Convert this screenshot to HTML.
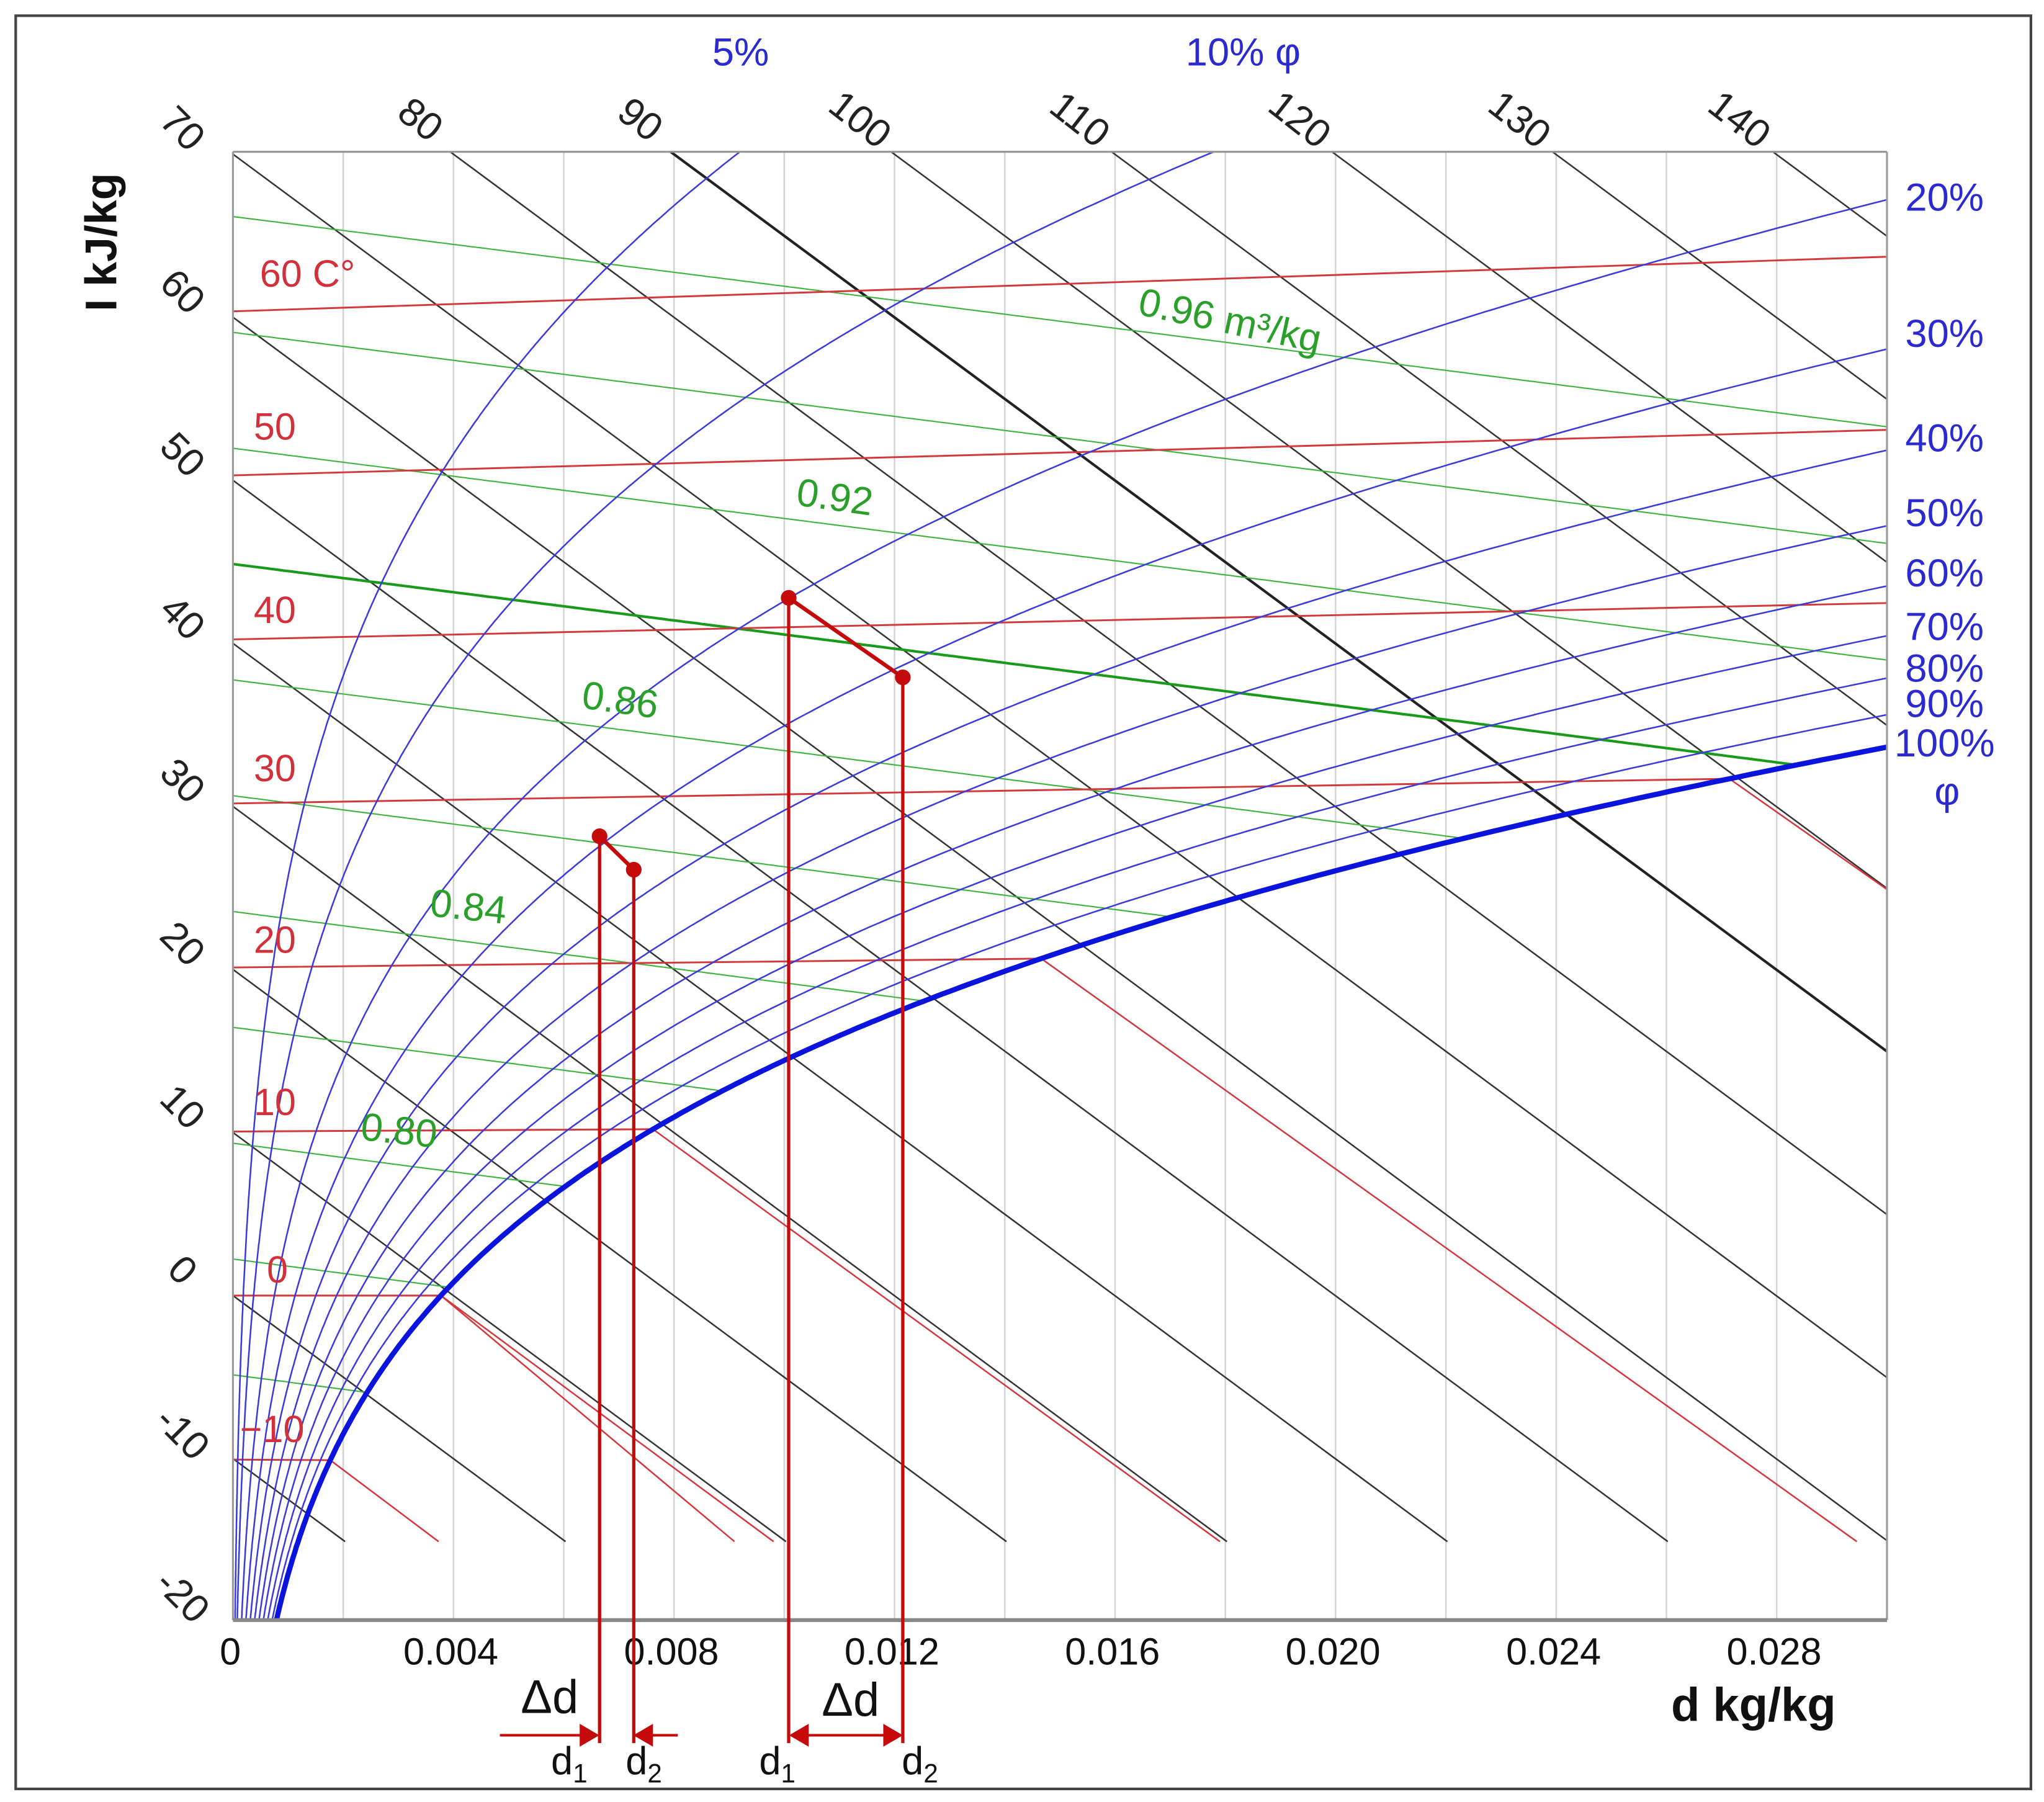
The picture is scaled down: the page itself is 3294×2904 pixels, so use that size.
<!DOCTYPE html>
<html><head><meta charset="utf-8"><style>
html,body{margin:0;padding:0;background:#fff;}
svg{display:block;}
text{font-family:"Liberation Sans",sans-serif;}
</style></head><body>
<svg id="chart" width="3294" height="2904" viewBox="0 0 1562 1377" preserveAspectRatio="none" xmlns="http://www.w3.org/2000/svg">
<rect x="0" y="0" width="1562" height="1377" fill="#fff"/>
<rect x="12" y="12" width="1540" height="1355" fill="none" stroke="#444" stroke-width="2"/>
<defs><clipPath id="plotclip"><rect x="178" y="116" width="1264" height="1122"/></clipPath></defs>
<g id="grid"></g>
<g id="plot" clip-path="url(#plotclip)"></g>
<g id="frame">
<line x1="178" y1="116" x2="1442" y2="116" stroke="#999" stroke-width="1.5"/>
<line x1="178" y1="116" x2="178" y2="1238" stroke="#999" stroke-width="1.5"/>
<line x1="1442" y1="116" x2="1442" y2="1238" stroke="#999" stroke-width="1.5"/>
<line x1="178" y1="1238" x2="1442" y2="1238" stroke="#888" stroke-width="3"/>
</g>
<g id="labels"></g>
<g id="process"></g>
</svg>
<script>
// ---- data ----
const xTicks = [0, 0.004, 0.008, 0.012, 0.016, 0.020, 0.024, 0.028];
const xTickLabels = ["0", "0.004", "0.008", "0.012", "0.016", "0.020", "0.024", "0.028"];
const gridD = [0.002,0.004,0.006,0.008,0.010,0.012,0.014,0.016,0.018,0.020,0.022,0.024,0.026,0.028];
const enthalpyVals = [-10,0,10,20,30,40,50,60,70,80,90,100,110,120,130,140];
const leftEnthLabels = [70,60,50,40,30,20,10,0,-10,-20];
const topEnthLabels = [80,90,100,110,120,130,140];
const isoTemps = [-10,0,10,20,30,40,50,60];
const rhVals = [0.05,0.1,0.2,0.3,0.4,0.5,0.6,0.7,0.8,0.9];
const rhRightLabels = ["20%","30%","40%","50%","60%","70%","80%","90%","100%"];
const volVals = [0.76,0.78,0.80,0.82,0.84,0.86,0.88,0.90,0.92,0.94,0.96];
const processD1 = [0.00665, 0.01008];
const processD2 = [0.00727, 0.01215];
const processH1 = [44.8, 68.0];
const processH2 = [44.3, 68.3];

// ---- axes ----
const X0=178, X1=1442, DMAX=0.03, Y0=990, S=12.46, P=101.325;
const xS = d => X0 + d*(X1-X0)/DMAX;
const yS = (h,d) => Y0 - S*(h - 2501*d);
const hOf = (t,d) => 1.006*t + d*(2501+1.86*t);
const yT = (t,d) => yS(hOf(t,d), d);
const ps = t => 0.61094*Math.exp(17.625*t/(t+243.04));
const dOf = (t,phi) => 0.622*phi*ps(t)/(P - phi*ps(t));
const NS="http://www.w3.org/2000/svg";
function mk(tag, attrs, parent, txt){
  const e=document.createElementNS(NS,tag);
  for(const k in attrs) e.setAttribute(k,attrs[k]);
  if(txt!==undefined) e.textContent=txt;
  parent.appendChild(e); return e;
}
const grid=document.getElementById('grid'), plot=document.getElementById('plot'),
      labels=document.getElementById('labels'), proc=document.getElementById('process');

gridD.forEach(d=>{
  const l=mk('line',{x1:xS(d),y1:116,x2:xS(d),y2:1238,stroke:'#d4d4d4','stroke-width':1.2},grid);
  
  
});

// enthalpy lines
enthalpyVals.forEach(h=>{
  let d2=(h+(1178-Y0)/S)/2501; if(d2>DMAX) d2=DMAX;
  const l=mk('line',{x1:xS(0),y1:yS(h,0),x2:xS(d2),y2:yS(h,d2),stroke:(h===90?'#222':'#333'),'stroke-width':(h===90?2:1.2)},plot);
  
  
});

// volume lines
volVals.forEach(v=>{
  let pts=[];
  for(let i=0;i<=300;i++){
    const d=DMAX*i/300;
    const t=v*P/(0.287*(1+1.608*d))-273.15;
    if(d>dOf(t,1)) break;
    pts.push(xS(d).toFixed(1)+','+yT(t,d).toFixed(1));
  }
  const l=mk('polyline',{points:pts.join(' '),fill:'none',stroke:(Math.abs(v-0.90)<1e-6?'#1a9a1a':'#3cb33c'),'stroke-width':(Math.abs(v-0.90)<1e-6?2:1)},plot);
  
  
});

// isotherms
isoTemps.forEach(t=>{
  const ds=Math.min(dOf(t,1),DMAX);
  const l=mk('line',{x1:xS(0),y1:yT(t,0),x2:xS(ds),y2:yT(t,ds),stroke:'#d2383c','stroke-width':1.4},plot);
  
  
  if(dOf(t,1)<DMAX){
    const slopes = t===0 ? [2501, 2501+333] : [2501-4.19*t];
    slopes.forEach(k=>{
      const sl=S*k/((X1-X0)/DMAX);
      const xa=xS(ds), ya=yT(t,ds);
      let xb=xa+(1178-ya)/sl, yb=1178;
      if(xb>X1){xb=X1; yb=ya+(X1-xa)*sl;}
      const f=mk('line',{x1:xa,y1:ya,x2:xb,y2:yb,stroke:'#d2383c','stroke-width':1.2},plot);
      
      
    });
  }
});

// RH curves
function rhCurve(phi,w){
  let pts=[];
  for(let i=0;i<=600;i++){
    const t=-20+i*0.15;
    const d=dOf(t,phi);
    if(d>DMAX+0.001) break;
    pts.push(xS(d).toFixed(1)+','+yT(t,d).toFixed(1));
  }
  return mk('polyline',{points:pts.join(' '),fill:'none',stroke:(phi===1?'#0a14dc':'#3a3ad8'),'stroke-width':w},plot);
}
rhVals.forEach(phi=>{
  const c=rhCurve(phi,1.2);
  
  
});
const sat=rhCurve(1,4);



// labels
function txt(x,y,s,opt,name){
  const e=mk('text',Object.assign({x:x,y:y,'text-anchor':'middle'},opt),labels,s);
  
  
  return e;
}
xTicks.forEach((d,i)=>{
  txt(xS(d)-2,1272,xTickLabels[i],{'font-size':29,fill:'#111'},'x-tick-label');
});
leftEnthLabels.forEach(h=>{
  const y=yS(h,0)-18;
  txt(138,y,String(h),{'font-size':30,fill:'#222',transform:`rotate(45 138 ${y})`,'dominant-baseline':'middle'},'enthalpy-label');
});
topEnthLabels.forEach((h,i)=>{
  const x=320+i*168;
  txt(x,93,String(h),{'font-size':30,fill:'#222',transform:`rotate(38 ${x} 93)`,'dominant-baseline':'middle'},'enthalpy-top-label');
});
const rhY=[151,255,335,392,438,479,511,538,568];
rhRightLabels.forEach((s,i)=>{
  txt(1486,rhY[i]+10,s,{'font-size':30,fill:'#2a2ad0'},'rh-label');
});
txt(1488,615,'φ',{'font-size':30,fill:'#2a2ad0'},'phi-label');
txt(566,50,'5%',{'font-size':30,fill:'#2a2ad0'},'rh-label-5');
txt(950,50,'10% φ',{'font-size':30,fill:'#2a2ad0'},'rh-label-10');
const tl=[["60 C°",235,219],["50",210,336],["40",210,476],["30",210,597],["20",210,728],["10",210,852],["0",212,980],["−10",208,1102]];
tl.forEach(a=>txt(a[1],a[2],a[0],{'font-size':29,fill:'#d2303a'},'temp-label'));
const gl=[["0.96 m³/kg",940,245,12],["0.92",638,380,8],["0.86",474,535,8],["0.84",358,693,6],["0.80",305,864,6]];
gl.forEach(a=>txt(a[1],a[2]+10,a[0],{'font-size':30,fill:'#2aa02a',transform:`rotate(${a[3]} ${a[1]} ${a[2]})`},'volume-label'));
txt(80,185,'I  kJ/kg',{'font-size':34,'font-weight':'bold',fill:'#111',transform:'rotate(-90 80 185)','dominant-baseline':'middle'},'y-axis-title');
txt(1340,1315,'d  kg/kg',{'font-size':36,'font-weight':'bold',fill:'#111'},'x-axis-title');

// process overlay
const RED='#c40a0a';
for(let i=0;i<2;i++){
  const xa=xS(processD1[i]), ya=yS(processH1[i],processD1[i]);
  const xb=xS(processD2[i]), yb=yS(processH2[i],processD2[i]);
  const c=mk('line',{x1:xa,y1:ya,x2:xb,y2:yb,stroke:RED,'stroke-width':3},proc);
  
  
  [[xa,ya],[xb,yb]].forEach(p=>{
    const v=mk('line',{x1:p[0],y1:p[1],x2:p[0],y2:1332,stroke:RED,'stroke-width':2.5},proc);
    
    
    const pt=mk('circle',{cx:p[0],cy:p[1],r:6,fill:RED},proc);
    
    
  });
}
</script>
<svg style="position:absolute;left:0;top:0" width="3294" height="2904" viewBox="0 0 1562 1377" preserveAspectRatio="none">
<g stroke="#c40a0a" stroke-width="2" fill="#c40a0a">
<line x1="382" y1="1326" x2="456" y2="1326"/>
<polygon points="456,1326 444,1319 444,1333"/>
<line x1="486" y1="1326" x2="518" y2="1326"/>
<polygon points="486,1326 498,1319 498,1333"/>
<line x1="605" y1="1326" x2="688" y2="1326"/>
<polygon points="605,1326 617,1319 617,1333"/>
<polygon points="688,1326 676,1319 676,1333"/>
</g>
<g font-family="Liberation Serif, serif" fill="#111">
<text x="420" y="1309" font-size="36" text-anchor="middle">Δd</text>
<text x="650" y="1311" font-size="36" text-anchor="middle">Δd</text>
<text x="435" y="1356" font-size="30" text-anchor="middle">d<tspan font-size="20" dy="6">1</tspan></text>
<text x="492" y="1356" font-size="30" text-anchor="middle">d<tspan font-size="20" dy="6">2</tspan></text>
<text x="594" y="1356" font-size="30" text-anchor="middle">d<tspan font-size="20" dy="6">1</tspan></text>
<text x="703" y="1356" font-size="30" text-anchor="middle">d<tspan font-size="20" dy="6">2</tspan></text>
</g>
</svg>
</body></html>
